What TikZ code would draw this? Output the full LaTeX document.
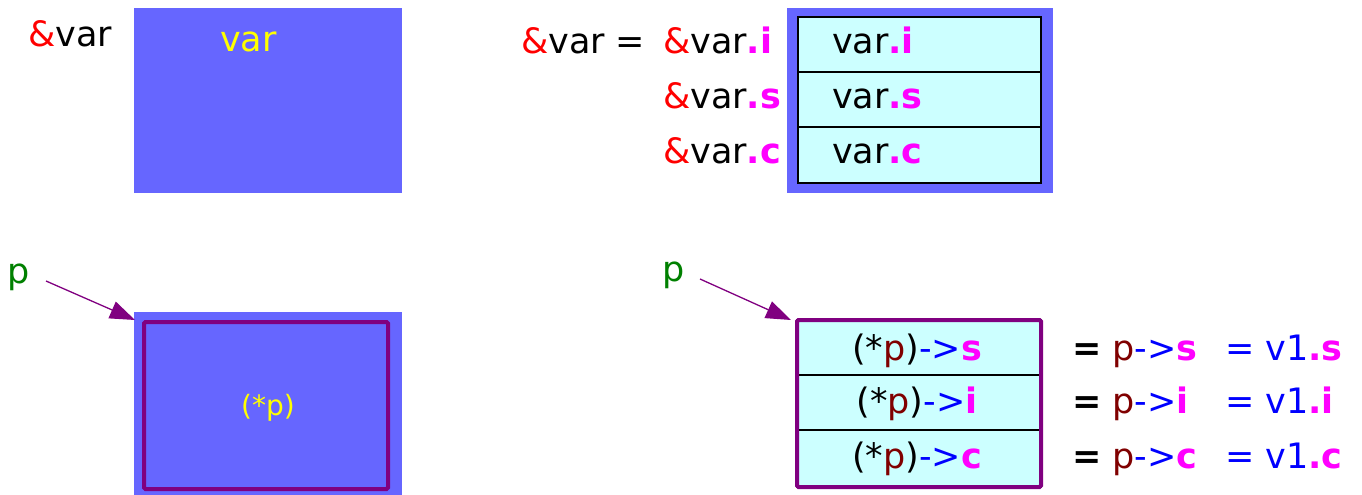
\documentclass[tikz,border=0pt]{standalone}
\usepackage{fontspec}
\setmainfont{DejaVu Sans}
\usetikzlibrary{arrows.meta}

\definecolor{boxblue}{HTML}{6666FF}
\definecolor{cellcyan}{HTML}{CCFFFF}
\definecolor{ptrpurple}{HTML}{800080}
\definecolor{ptrgreen}{HTML}{008000}
\definecolor{addrred}{HTML}{FF0000}
\definecolor{fieldmag}{HTML}{FF00FF}
\definecolor{ptrmaroon}{HTML}{800000}
\definecolor{opblue}{HTML}{0000FF}
\definecolor{valyellow}{HTML}{FFFF00}

% text helpers
\newcommand{\amp}{\textcolor{addrred}{\&}}
\newcommand{\mem}[1]{\textcolor{fieldmag}{\bfseries #1}}
\newcommand{\arw}{\textcolor{opblue}{->}}
\newcommand{\pref}{\textcolor{ptrmaroon}{p}}

\begin{document}
\begin{tikzpicture}[x=1pt,y=-1pt,
  txt/.style={inner sep=0pt,outer sep=0pt,font=\fontsize{35}{42}\selectfont},
  region/.style={fill=boxblue,draw=none,inner sep=0pt,outer sep=0pt},
  cellbox/.style={fill=cellcyan,draw=black,line width=1.5pt,inner sep=0pt,outer sep=0pt,
    minimum width=244pt,minimum height=55pt},
  ptrframe/.style={draw=ptrpurple,line width=4pt,rounded corners=1.5pt,inner sep=0pt,outer sep=0pt},
  ptrarrow/.style={draw=ptrpurple,line width=1.3pt,-{Triangle[length=25pt,width=18pt]}}]
\useasboundingbox (0,0) rectangle (1362,495);

% ---- struct variable as one block ----
\node[region,minimum width=268pt,minimum height=185pt] (varblk) at (268,100.5) {};
\node[txt,anchor=base west] (varaddr) at (28,47) {\amp var};
\node[txt,anchor=base west,text=valyellow] (varname) at (220,52) {var};

% ---- struct variable with its members ----
\node[region,minimum width=266pt,minimum height=185pt] (memblk) at (920,100.5) {};
\node[cellbox,minimum width=243pt] (ci) at (919.5,44.5) {};
\node[cellbox,minimum width=243pt] (cs) at (919.5,99.5) {};
\node[cellbox,minimum width=243pt,minimum height=56pt] (cc) at (919.5,155) {};
\node[txt,anchor=base west] (ti) at (832,53) {var\mem{.i}};
\node[txt,anchor=base west] (ts) at (832,108) {var\mem{.s}};
\node[txt,anchor=base west] (tc) at (832,163) {var\mem{.c}};
\node[txt,anchor=base west] (aeq) at (521,53) {\amp var =};
\node[txt,anchor=base west] (ai) at (663,53) {\amp var\mem{.i}};
\node[txt,anchor=base west] (as) at (663,108) {\amp var\mem{.s}};
\node[txt,anchor=base west] (ac) at (663,163) {\amp var\mem{.c}};

% ---- pointer to the whole block ----
\node[region,minimum width=268pt,minimum height=190pt] (pblk) at (268,407) {};
\node[ptrframe,minimum width=244pt,minimum height=167pt] (pframe) at (266,405.5) {};
\node[txt,font=\fontsize{28}{34}\selectfont,text=valyellow] (deref) at (268,408) {(*p)};
\node[txt,anchor=base west,text=ptrgreen] (pl) at (8,283) {p};
\coordinate (pltail) at (46,281);
\coordinate (pltip) at (135,320);
\draw[ptrarrow] (pltail) -- (pltip);

% ---- pointer to the members ----
\node[cellbox] (rs) at (919,347.5) {};
\node[cellbox] (ri) at (919,402.5) {};
\node[cellbox,minimum height=57pt] (rc) at (919,458.5) {};
\node[ptrframe,minimum width=244pt,minimum height=167pt] (rframe) at (919,403.5) {};
\node[txt,anchor=base] (rts) at (917,360) {(*\pref)\arw\mem{s}};
\node[txt,anchor=base] (rti) at (917,413) {(*\pref)\arw\mem{i}};
\node[txt,anchor=base] (rtc) at (917,468) {(*\pref)\arw\mem{c}};
\node[txt,anchor=base west,text=ptrgreen] (pr) at (662,281) {p};
\coordinate (prtail) at (700,279);
\coordinate (prtip) at (791,320);
\draw[ptrarrow] (prtail) -- (prtip);

% ---- equivalent expressions ----
\node[txt,anchor=base west] (es1) at (1072,360) {\textbf{=} \pref\arw\mem{s}};
\node[txt,anchor=base west] (ei1) at (1072,413) {\textbf{=} \pref\arw\mem{i}};
\node[txt,anchor=base west] (ec1) at (1072,468) {\textbf{=} \pref\arw\mem{c}};
\node[txt,anchor=base west,text=opblue] (es2) at (1225,360) {= v1\mem{.s}};
\node[txt,anchor=base west,text=opblue] (ei2) at (1225,413) {= v1\mem{.i}};
\node[txt,anchor=base west,text=opblue] (ec2) at (1225,468) {= v1\mem{.c}};
\end{tikzpicture}
\end{document}
